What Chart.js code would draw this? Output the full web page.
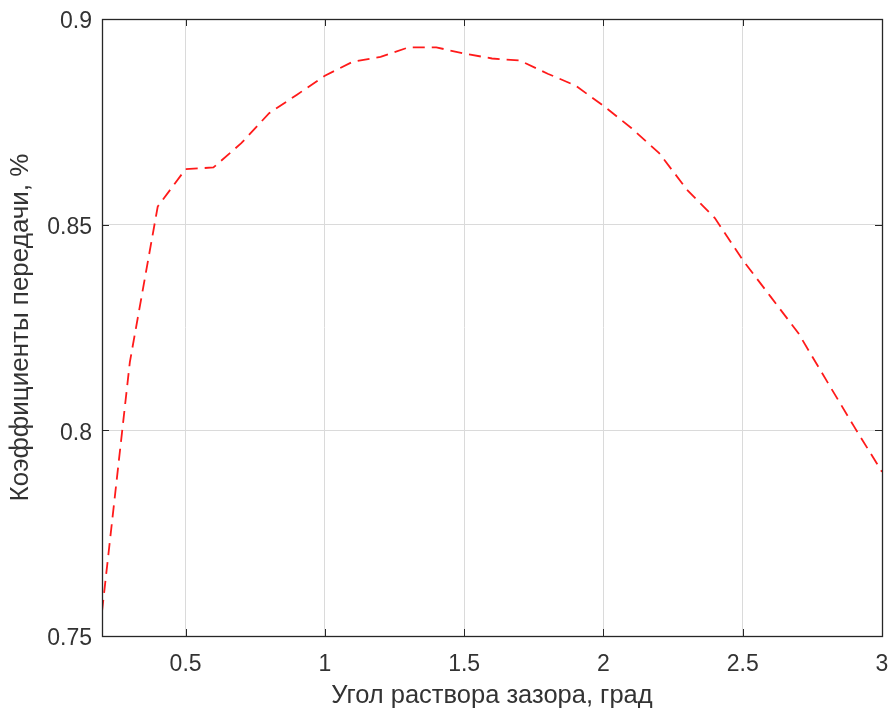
<!DOCTYPE html>
<html>
<head>
<meta charset="utf-8">
<script src="https://cdn.jsdelivr.net/npm/chart.js@4.4.0/dist/chart.umd.min.js"></script>
<style>
html,body{margin:0;padding:0;background:#fff;}
#wrap{width:893px;height:711px;position:relative;}
</style>
</head>
<body>
<div id="wrap"><canvas id="c" width="893" height="711"></canvas></div>
<script>
const xValues = [0.2,0.3,0.4,0.5,0.6,0.7,0.8,0.9,1.0,1.1,1.2,1.3,1.4,1.5,1.6,1.7,1.8,1.9,2.0,2.1,2.2,2.3,2.4,2.5,2.6,2.7,2.8,2.9,3.0];
const yValues = [0.7559,0.8166,0.8544,0.8635,0.8639,0.8698,0.8771,0.8816,0.8862,0.8896,0.8908,0.8931,0.8931,0.8916,0.8904,0.8899,0.8867,0.8838,0.8789,0.8735,0.8674,0.8585,0.8516,0.8414,0.8325,0.8236,0.8122,0.8009,0.7899];
const xTicks = [0.5,1,1.5,2,2.5,3];
const yTicks = [0.75,0.8,0.85,0.9];
const xTitle = 'Угол раствора зазора, град';
const yTitle = 'Коэффициенты передачи, %';

const textColor = '#333333';
const FONT = '"Liberation Sans", Arial, sans-serif';

const framePlugin = {
  id: 'frame',
  afterDatasetsDraw(chart) {
    const {ctx, chartArea: a, scales: {x, y}} = chart;
    ctx.save();
    ctx.strokeStyle = '#262626';
    ctx.lineWidth = 1;
    ctx.beginPath();
    const L = 7;
    xTicks.forEach(v => {
      const px = Math.round(x.getPixelForValue(v)) + 0.5;
      ctx.moveTo(px, a.bottom); ctx.lineTo(px, a.bottom - L);
      ctx.moveTo(px, a.top); ctx.lineTo(px, a.top + L);
    });
    yTicks.forEach(v => {
      const py = Math.round(y.getPixelForValue(v)) + 0.5;
      ctx.moveTo(a.left, py); ctx.lineTo(a.left + L, py);
      ctx.moveTo(a.right, py); ctx.lineTo(a.right - L, py);
    });
    ctx.stroke();
    ctx.lineWidth = 1.3;
    ctx.strokeRect(Math.round(a.left) + 0.5, Math.round(a.top) + 0.5, Math.round(a.right - a.left), Math.round(a.bottom - a.top));
    ctx.restore();
  }
};

new Chart(document.getElementById('c'), {
  type: 'line',
  data: {
    datasets: [{
      data: xValues.map((v, i) => ({x: v, y: yValues[i]})),
      borderColor: '#ff1a1a',
      borderWidth: 1.8,
      borderDash: [12, 7],
      pointRadius: 0,
      tension: 0,
      fill: false
    }]
  },
  options: {
    responsive: false,
    animation: false,
    layout: {padding: {top: 19, right: 11, left: 0, bottom: 0}},
    plugins: {legend: {display: false}, tooltip: {enabled: false}},
    scales: {
      x: {
        type: 'linear', min: 0.2, max: 3,
        afterBuildTicks(s) { s.ticks = xTicks.map(v => ({value: v})); },
        afterFit(s) { s.height = 75; s.paddingLeft = 0; s.paddingRight = 0; },
        grid: {color: '#dadada', lineWidth: 1, drawTicks: false},
        border: {display: false},
        ticks: {
          color: textColor, font: {family: FONT, size: 23}, padding: 15,
          maxRotation: 0, autoSkip: false,
          callback: v => String(v)
        },
        title: {display: true, text: xTitle, color: textColor, font: {family: FONT, size: 25.5}, padding: {top: 0, bottom: 0}}
      },
      y: {
        type: 'linear', min: 0.75, max: 0.9,
        afterBuildTicks(s) { s.ticks = yTicks.map(v => ({value: v})); },
        afterFit(s) { s.width = 102; s.paddingTop = 0; s.paddingBottom = 0; },
        grid: {color: '#dadada', lineWidth: 1, drawTicks: false},
        border: {display: false},
        ticks: {
          color: textColor, font: {family: FONT, size: 23}, padding: 10,
          autoSkip: false, labelOffset: 3,
          callback: v => String(v)
        },
        title: {display: true, text: yTitle, color: textColor, font: {family: FONT, size: 26}, padding: {top: 5, bottom: 0}}
      }
    }
  },
  plugins: [framePlugin]
});
</script>
</body>
</html>
